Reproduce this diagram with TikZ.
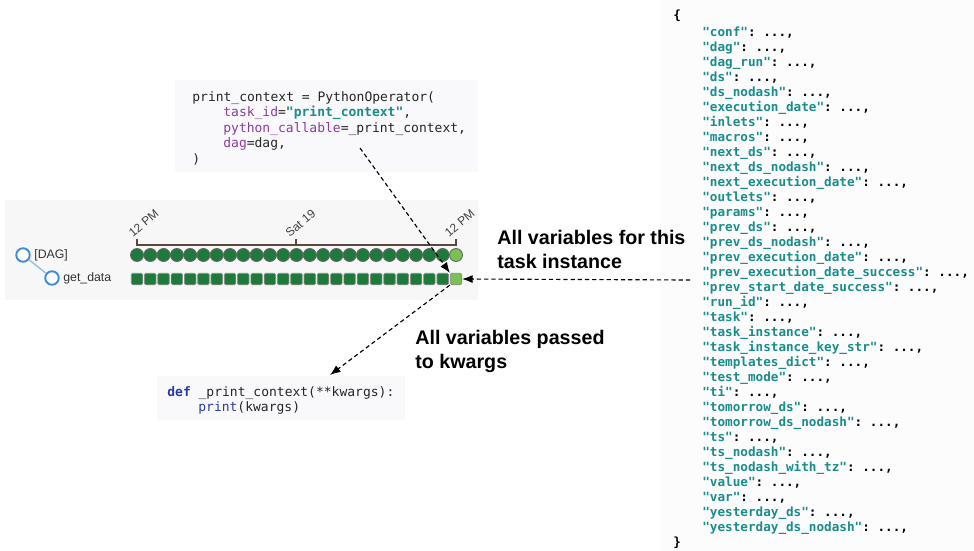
\documentclass[tikz,border=0pt]{standalone}
\usepackage{fontspec}
\setsansfont{Liberation Sans}
\setmonofont{DejaVu Sans Mono}
\usetikzlibrary{arrows.meta,positioning,calc}
\definecolor{codebg}{RGB}{249,249,251}
\definecolor{treebg}{RGB}{247,247,247}
\definecolor{jsonbg}{RGB}{252,252,253}
\definecolor{kwpurple}{RGB}{140,60,160}
\definecolor{strteal}{RGB}{25,140,140}
\definecolor{defblue}{RGB}{40,60,160}
\definecolor{rundark}{RGB}{30,122,58}
\definecolor{runlight}{RGB}{122,192,82}
\definecolor{treeblue}{RGB}{60,140,220}
\definecolor{axisbrown}{RGB}{90,72,62}

\begin{document}
\begin{tikzpicture}[x=0.02cm, y=-0.02cm,
  codeline/.style={anchor=base west, inner sep=0pt, font=\ttfamily\fontsize{7.4}{8}\selectfont, text=black!85},
  jsonline/.style={anchor=base west, inner sep=0pt, font=\ttfamily\bfseries\fontsize{7.2}{8}\selectfont},
  note/.style={anchor=west, inner sep=0pt, align=left, font=\sffamily\bfseries\fontsize{11.2}{13.7}\selectfont},
  rundot/.style={circle, draw=black!60, line width=0.5pt, fill=rundark, minimum size=0.26cm, inner sep=0pt},
  runsq/.style={rectangle, rounded corners=0.8pt, draw=black!45, line width=0.4pt, fill=rundark, minimum size=0.23cm, inner sep=0pt},
  treedot/.style={circle, draw=treeblue, line width=1.1pt, fill=white, minimum size=0.27cm, inner sep=0pt},
  treelbl/.style={anchor=west, inner sep=0pt, font=\sffamily\fontsize{7}{8}\selectfont, text=black!80},
  ticklbl/.style={anchor=south west, inner sep=0pt, rotate=40, font=\sffamily\fontsize{6.8}{8}\selectfont, text=black!75},
  flow/.style={dashed, dash pattern=on 2.4pt off 1.7pt, line width=0.65pt, -{Latex[length=6pt,width=4.6pt]}},
]
\useasboundingbox (0,0) rectangle (974,551);

% backgrounds
\fill[jsonbg] (660,0) rectangle (974,551);
\fill[codebg] (175,80) rectangle (478,172);
\fill[treebg] (5,200) rectangle (478,300);
\fill[codebg] (157,376) rectangle (405,420);

% operator code
\node[codeline] (op1) at (192,101) {print\_context = PythonOperator(};
\node[codeline] (op2) at (223,116.5) {{\color{kwpurple}task\_id}=\textbf{\color{strteal}"print\_context"},};
\node[codeline] (op3) at (223,132) {{\color{kwpurple}python\_callable}=\_print\_context,};
\node[codeline] (op4) at (223,147.5) {{\color{kwpurple}dag}=dag,};
\node[codeline] (op5) at (192,163) {)};

% DAG tree
\node[treedot] (dagroot) at (23,255) {};
\node[treedot] (getdata) at (52,278) {};
\draw[treeblue!55, line width=0.8pt] (dagroot) -- (getdata);
\node[treelbl] (daglbl) at (34,255) {[DAG]};
\node[treelbl] (getlbl) at (63,278) {get\_data};

% time axis
\draw[axisbrown, line width=0.6pt] (137,239) -- (137,245) -- (456,245) -- (456,239);
\draw[axisbrown, line width=0.6pt] (296,245) -- (296,239);
\node[ticklbl] (tickl) at (133,238) {12 PM};
\node[ticklbl] (tickm) at (290,238) {Sat 19};
\node[ticklbl] (tickr) at (449,238) {12 PM};

% runs and task instances
\foreach \i in {1,...,24} {
  \node[rundot] (c\i) at ({137+(\i-1)*13.29},255) {};
  \node[runsq] (sq\i) at ({137+(\i-1)*13.29},279) {};
}
\node[rundot, fill=runlight] (c25) at (456,255) {};
\node[runsq, fill=runlight] (sq25) at (456,279) {};

% callable code
\node[codeline] (fn1) at (167,396) {\textbf{\color{defblue}def} \_print\_context(**kwargs):};
\node[codeline] (fn2) at (198,411) {{\color{defblue}print}(kwargs)};

% notes
\node[note] (noteti) at (497,249) {All variables for this\\task instance};
\node[note] (notekw) at (415,351) {All variables passed\\to kwargs};

% context dict
\node[jsonline] (jopen) at (673,19) {\{};
\foreach \k [count=\i] in {conf,dag,dag\_run,ds,ds\_nodash,execution\_date,inlets,macros,next\_ds,next\_ds\_nodash,next\_execution\_date,outlets,params,prev\_ds,prev\_ds\_nodash,prev\_execution\_date,prev\_execution\_date\_success,prev\_start\_date\_success,run\_id,task,task\_instance,task\_instance\_key\_str,templates\_dict,test\_mode,ti,tomorrow\_ds,tomorrow\_ds\_nodash,ts,ts\_nodash,ts\_nodash\_with\_tz,value,var,yesterday\_ds,yesterday\_ds\_nodash}
  \node[jsonline] (key\i) at (702,{36+(\i-1)*15.03}) {{\color{strteal}"\k"}: ...,};
\node[jsonline] (jclose) at (673,546) {\}};

% connectors
\coordinate (opout) at (360,148);
\coordinate (ctxout) at (690,280);
\coordinate (fnin) at (330,375);
\draw[flow] (opout) -- (sq25.north west);
\draw[flow] (ctxout) -- (sq25.east);
\draw[flow] (sq25.south west) -- (fnin);
\end{tikzpicture}
\end{document}
